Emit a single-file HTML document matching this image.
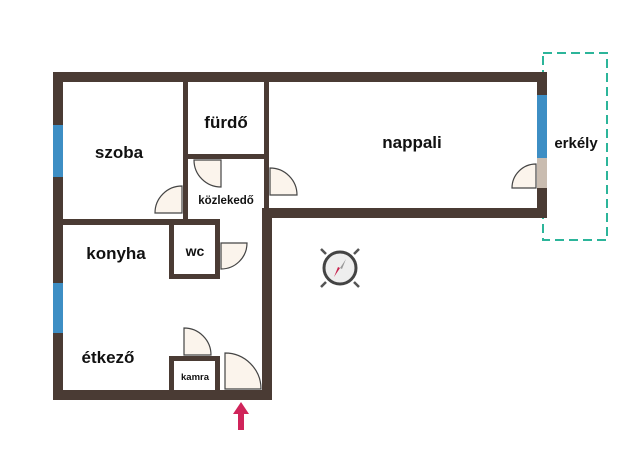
<!DOCTYPE html>
<html><head><style>
body{margin:0;background:#fff}
text{font-family:"Liberation Sans",sans-serif;font-weight:bold;fill:#111;text-anchor:middle}
</style></head><body>
<svg width="640" height="465" viewBox="0 0 640 465" xmlns="http://www.w3.org/2000/svg">
<rect width="640" height="465" fill="#fff"/>
<rect x="543" y="53" width="64" height="187" fill="none" stroke="#2cb59a" stroke-width="2" stroke-dasharray="9,5"/>
<g fill="#4a3b34">
<rect x="53" y="72" width="494" height="10"/>
<rect x="53" y="72" width="10" height="328"/>
<rect x="537" y="72" width="10" height="146"/>
<rect x="262" y="208" width="285" height="10"/>
<rect x="262" y="208" width="10" height="192"/>
<rect x="53" y="390" width="219" height="10"/>
<rect x="183" y="72" width="5" height="153"/>
<rect x="264" y="72" width="5" height="146"/>
<rect x="183" y="154" width="86" height="5"/>
<rect x="63" y="219" width="157" height="6"/>
<rect x="169" y="219" width="5" height="60"/>
<rect x="215" y="219" width="5" height="60"/>
<rect x="169" y="274" width="51" height="5"/>
<rect x="169" y="356" width="51" height="5"/>
<rect x="169" y="356" width="5" height="36"/>
<rect x="215" y="356" width="5" height="36"/>
</g>
<g fill="#3d8ec4">
<rect x="53" y="125" width="10" height="52"/>
<rect x="53" y="283" width="10" height="50"/>
<rect x="537" y="95" width="10" height="63"/>
</g>
<rect x="537" y="158" width="10" height="30" fill="#c9bcb0"/>
<g fill="#fbf4ec" stroke="#444" stroke-width="1.2">
<path d="M182 213 L182 186 A27 27 0 0 0 155 213 Z"/>
<path d="M221 160 L221 187 A27 27 0 0 1 194 160 Z"/>
<path d="M270 195 L270 168 A27 27 0 0 1 297 195 Z"/>
<path d="M221 243 L247 243 A26 26 0 0 1 221 269 Z"/>
<path d="M184 355 L184 328 A27 27 0 0 1 211 355 Z"/>
<path d="M225 389 L225 353 A36 36 0 0 1 261 389 Z"/>
<path d="M536 188 L536 164 A24 24 0 0 0 512 188 Z"/>
</g>
<g transform="translate(340,268)">
<path d="M-14 -14 L-19 -19 M14 14 L19 19 M-14 14 L-19 19 M14 -14 L19 -19" stroke="#555" stroke-width="2.5"/>
<circle r="16" fill="#eee" stroke="#444" stroke-width="3"/>
<path d="M0 0 L6 -9 L2 1 Z" fill="#999"/>
<path d="M0 0 L-6 9 L-2 -1 Z" fill="#c8244f"/>
</g>
<path d="M241 402 L233 414 L238 414 L238 430 L244 430 L244 414 L249 414 Z" fill="#d0245a"/>
<text x="119" y="158" font-size="17">szoba</text>
<text x="226" y="128" font-size="17">fürdő</text>
<text x="226" y="204" font-size="11.5">közlekedő</text>
<text x="412" y="148" font-size="17">nappali</text>
<text x="576" y="148" font-size="15">erkély</text>
<text x="116" y="259" font-size="17">konyha</text>
<text x="195" y="256" font-size="14">wc</text>
<text x="108" y="363" font-size="17">étkező</text>
<text x="195" y="380" font-size="9.5">kamra</text>
</svg>
</body></html>
